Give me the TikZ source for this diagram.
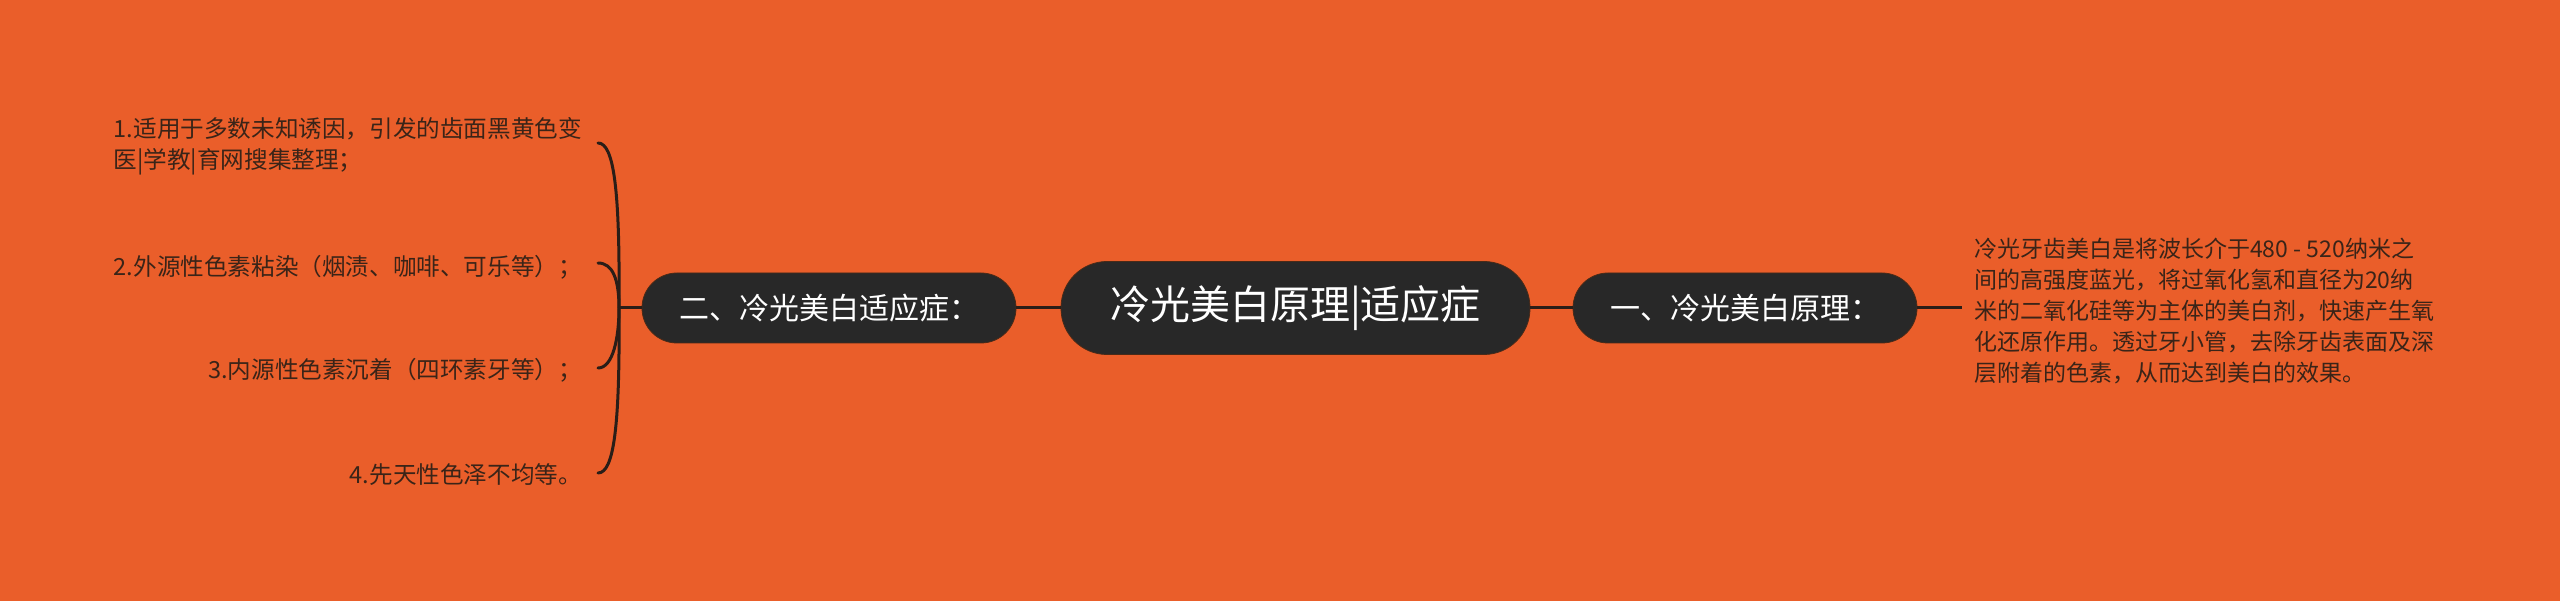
\documentclass[tikz,border=0pt]{standalone}
\usepackage{fontspec}
\setmainfont{Noto Sans CJK SC}
\definecolor{bg}{HTML}{EA5E2A}
\definecolor{nodefill}{HTML}{282828}
\definecolor{nodeedge}{HTML}{4A2A18}
\definecolor{linec}{HTML}{2A1E18}
\definecolor{itemc}{HTML}{3A2418}
\begin{document}
\begin{tikzpicture}[x=1pt,y=-1pt,
  pill/.style={fill=nodefill, draw=nodeedge, line width=0.8pt, text=white, inner ysep=0pt, minimum height=70pt, rounded corners=35pt, font=\fontsize{30}{36}\selectfont, inner xsep=37pt},
  hub/.style={fill=nodefill, draw=nodeedge, line width=0.8pt, text=white, inner ysep=0pt, minimum height=93pt, minimum width=469pt, rounded corners=46pt, font=\fontsize{40}{48}\selectfont},
  conn/.style={draw=linec, line width=3pt},
  item/.style={text=itemc, font=\fontsize{23.6}{31}\selectfont, inner sep=0pt, align=left},
]
\fill[bg] (0,0) rectangle (2560,601);
\useasboundingbox (0,0) rectangle (2560,601);

\node[hub] (C) at (1295.5,308) {冷光美白原理|适应症};
\node[pill] (L) at (829,308) {二、冷光美白适应症：};
\node[pill] (R) at (1745,308) {一、冷光美白原理：};

\node[item, anchor=west, inner xsep=12pt, font=\fontsize{23}{31}\selectfont] (T) at (1962,311) {冷光牙齿美白是将波长介于480 - 520纳米之\\间的高强度蓝光，将过氧化氢和直径为20纳\\米的二氧化硅等为主体的美白剂，快速产生氧\\化还原作用。透过牙小管，去除牙齿表面及深\\层附着的色素，从而达到美白的效果。};

\node[item, anchor=east] (i1) at (582,146) {1.适用于多数未知诱因，引发的齿面黑黄色变\\医|学教|育网搜集整理；};
\node[item, anchor=east] (i2) at (582,267) {2.外源性色素粘染（烟渍、咖啡、可乐等）；};
\node[item, anchor=east] (i3) at (582,370) {3.内源性色素沉着（四环素牙等）；};
\node[item, anchor=east] (i4) at (582,475) {4.先天性色泽不均等。};

\draw[conn] (L.east) -- (C.west);
\draw[conn] (C.east) -- (R.west);
\draw[conn] (R.east) -- (R.east -| T.west);

\coordinate (j) at (619,308);
\coordinate (e1) at (598,143);
\coordinate (e2) at (598,263);
\coordinate (e3) at (598,368);
\coordinate (e4) at (598,473);
\draw[conn] (L.west) -- (j);
\draw[conn, line cap=round] (j) .. controls (620,190) and (614,143) .. (e1);
\draw[conn, line cap=round] (j) .. controls (619,280) and (613,263) .. (e2);
\draw[conn, line cap=round] (j) .. controls (619,338) and (613,368) .. (e3);
\draw[conn, line cap=round] (j) .. controls (620,426) and (614,473) .. (e4);
\end{tikzpicture}
\end{document}
